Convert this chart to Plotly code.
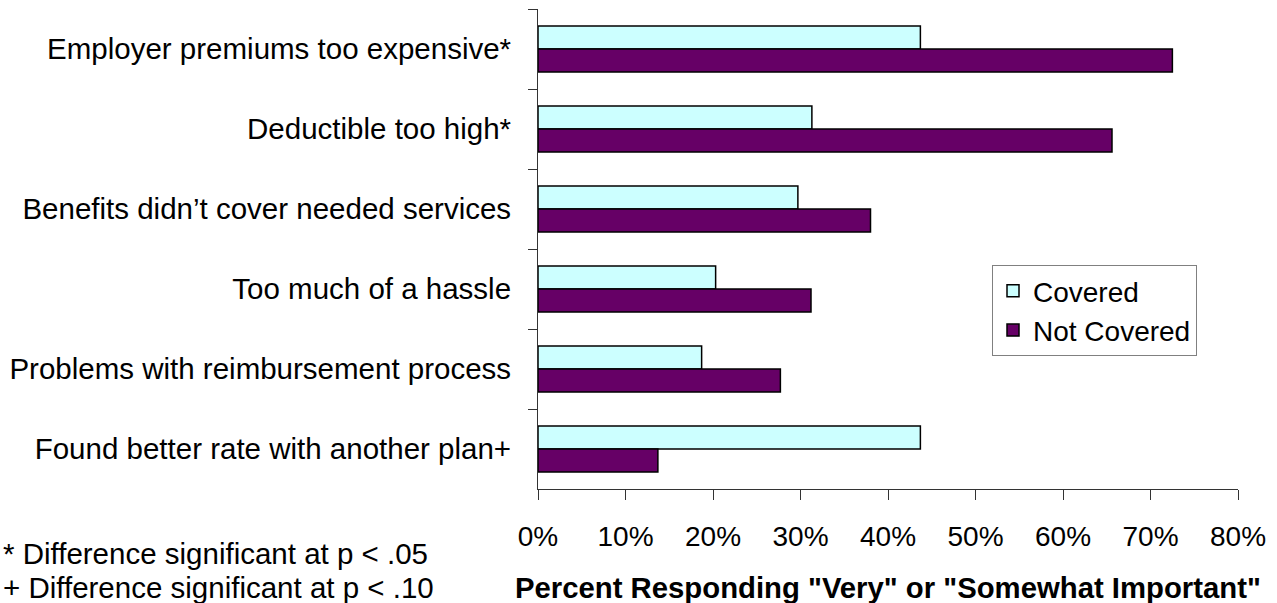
import plotly.graph_objects as go

categories = [
    "Employer premiums too expensive*",
    "Deductible too high*",
    "Benefits didn’t cover needed services",
    "Too much of a hassle",
    "Problems with reimbursement process",
    "Found better rate with another plan+",
]
covered = [43.7, 31.3, 29.7, 20.3, 18.7, 43.7]
not_covered = [72.5, 65.6, 38.0, 31.2, 27.7, 13.7]
x_ticks = [0, 10, 20, 30, 40, 50, 60, 70, 80]
x_tick_labels = ["0%", "10%", "20%", "30%", "40%", "50%", "60%", "70%", "80%"]

FONT = "Liberation Sans, Arial, sans-serif"
W, H = 1277, 603
L, R, T, B = 538, 39, 9, 114
PW, PH = W - L - R, H - T - B


def px_x(px):
    return (px - L) / PW


def px_y(py):
    return (H - B - py) / PH


fig = go.Figure()
fig.add_trace(go.Bar(
    y=categories, x=covered, orientation="h", name="Covered",
    marker=dict(color="#CCFFFF", line=dict(color="#000000", width=1.5)),
))
fig.add_trace(go.Bar(
    y=categories, x=not_covered, orientation="h", name="Not Covered",
    marker=dict(color="#660066", line=dict(color="#000000", width=1.5)),
))

fig.update_layout(
    width=W, height=H,
    margin=dict(l=L, r=R, t=T, b=B, autoexpand=False),
    paper_bgcolor="white", plot_bgcolor="white",
    font=dict(family=FONT, size=28, color="black"),
    barmode="group", bargap=0.425, bargroupgap=0,
    showlegend=True,
    legend=dict(
        x=px_x(992), y=px_y(265), xanchor="left", yanchor="top",
        bgcolor="white", bordercolor="#808080", borderwidth=1,
        font=dict(size=28, family=FONT), traceorder="normal",
    ),
    xaxis=dict(
        range=[0, 80], tickvals=x_ticks, ticktext=x_tick_labels,
        showgrid=False, zeroline=False, showline=True, linecolor="#333333", linewidth=1,
        ticks="outside", ticklen=10, tickcolor="#333333", tickwidth=1,
        ticklabelstandoff=12, tickfont=dict(size=28),
        automargin=False,
    ),
    yaxis=dict(
        type="category", autorange="reversed",
        showgrid=False, zeroline=False, showline=True, linecolor="#333333", linewidth=1,
        ticks="outside", ticklen=9, tickcolor="#333333", tickwidth=1,
        tickson="boundaries", ticklabelstandoff=20, tickfont=dict(size=29.5),
        automargin=False,
    ),
)

fig.add_annotation(
    text='<b>Percent Responding "Very" or "Somewhat Important"</b>',
    xref="paper", yref="paper", x=0.5, y=px_y(587),
    xanchor="center", yanchor="middle", showarrow=False,
    font=dict(size=29.3, family=FONT, color="black"),
)
fig.add_annotation(
    text="* Difference significant at p < .05",
    xref="paper", yref="paper", x=px_x(1), y=px_y(553),
    xanchor="left", yanchor="middle", showarrow=False, align="left",
    font=dict(size=29.5, family=FONT, color="black"),
)
fig.add_annotation(
    text="+ Difference significant at p < .10",
    xref="paper", yref="paper", x=px_x(1), y=px_y(587),
    xanchor="left", yanchor="middle", showarrow=False, align="left",
    font=dict(size=29.5, family=FONT, color="black"),
)

fig.write_html("out.html")
